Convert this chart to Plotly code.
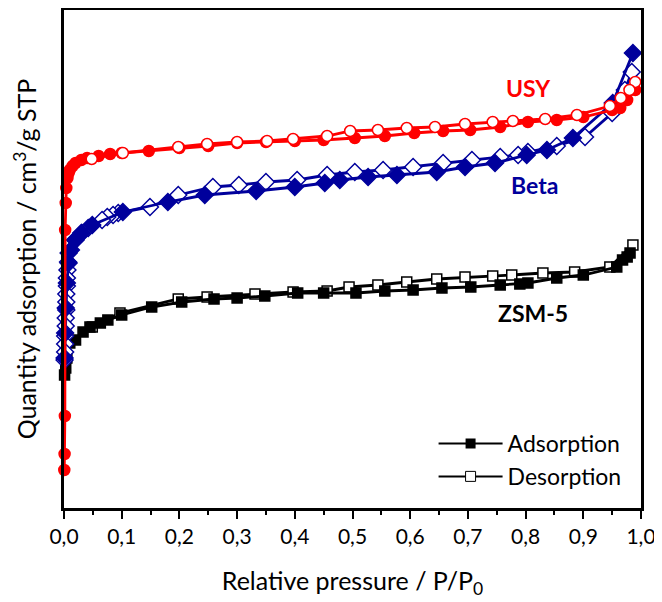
import plotly.graph_objects as go

# Relative pressure (P/P0) and quantity adsorbed (arbitrary units)
usy_ads_p = [0.0005, 0.001, 0.0015, 0.002, 0.003, 0.004, 0.006, 0.008, 0.01, 0.015, 0.02, 0.03, 0.04,
             0.06, 0.08, 0.1, 0.147, 0.2, 0.25, 0.3, 0.35, 0.4, 0.45, 0.504, 0.556, 0.607, 0.657,
             0.704, 0.756, 0.804, 0.854, 0.9, 0.95, 0.964, 0.976, 0.99]
usy_ads_q = [38, 54, 92, 278, 305, 320, 330, 335, 338, 342, 345, 348, 350,
             352, 354, 355, 357, 360, 362, 365, 366, 367, 368, 370, 372, 375, 377,
             378, 381, 386, 388, 391, 398, 400, 408, 418]
usy_des_p = [0.99, 0.98, 0.965, 0.946, 0.889, 0.834, 0.778, 0.743, 0.695, 0.643, 0.594, 0.544,
             0.496, 0.456, 0.397, 0.352, 0.3, 0.248, 0.198, 0.102, 0.048]
usy_des_q = [426, 418, 410, 402, 393, 389, 387, 386, 384, 381, 380, 378,
             377, 372, 369, 367, 366, 364, 361, 355, 349]

beta_ads_p = [0.001, 0.002, 0.003, 0.005, 0.008, 0.012, 0.02, 0.03, 0.049, 0.102, 0.18, 0.244,
              0.333, 0.4, 0.452, 0.478, 0.527, 0.577, 0.646, 0.695, 0.747, 0.802, 0.837, 0.882,
              0.951, 0.986]
beta_ads_q = [150, 175, 200, 225, 245, 258, 268, 275, 283, 296, 306, 313,
              317, 321, 325, 328, 331, 333, 336, 341, 345, 353, 358, 370,
              405, 455]
beta_des_p = [0.984, 0.972, 0.964, 0.95, 0.903, 0.854, 0.804, 0.787, 0.756, 0.707, 0.657, 0.605,
              0.553, 0.504, 0.456, 0.404, 0.35, 0.303, 0.258, 0.198, 0.149, 0.094, 0.085, 0.075,
              0.066, 0.042, 0.031, 0.019, 0.008, 0.007, 0.006, 0.005, 0.005, 0.004, 0.004, 0.004,
              0.003, 0.003, 0.002, 0.002, 0.002, 0.001]
beta_des_q = [436, 418, 406, 395, 371, 362, 356, 353, 351, 348, 345, 341,
              338, 336, 333, 328, 326, 323, 321, 313, 301, 295, 293, 291,
              288, 280, 275, 268, 255, 246, 238, 230, 222, 214, 206, 198,
              190, 182, 172, 164, 156, 148]

zsm_ads_p = [0.001, 0.003, 0.005, 0.01, 0.02, 0.033, 0.045, 0.063, 0.076, 0.1, 0.152, 0.204,
             0.26, 0.3, 0.348, 0.405, 0.45, 0.506, 0.556, 0.605, 0.655, 0.705, 0.756, 0.79,
             0.804, 0.854, 0.9, 0.958, 0.968, 0.976, 0.981]
zsm_ads_q = [133, 140, 150, 165, 168, 176, 181, 185, 188, 193, 201, 206,
             209, 210, 212, 215, 215, 215, 217, 218, 220, 221, 223, 224,
             225, 230, 233, 241, 248, 251, 255]
zsm_des_p = [0.986, 0.946, 0.885, 0.83, 0.776, 0.743, 0.695, 0.646, 0.594, 0.544, 0.494, 0.456,
             0.397, 0.331, 0.248, 0.198, 0.097, 0.049]
zsm_des_q = [263, 241, 236, 235, 233, 232, 231, 229, 226, 223, 221, 217,
             216, 214, 211, 209, 195, 181]

RED = "#ff0000"
BLUE = "#00009c"
BLACK = "#000000"
FONT = "Lato"

fig = go.Figure()


def add(px, q, color, symbol, size, filled):
    fig.add_trace(go.Scatter(
        x=px, y=q, mode="lines+markers", showlegend=False, cliponaxis=False,
        line=dict(color=color, width=2.8),
        marker=dict(symbol=symbol, size=size,
                    color=color if filled else "white",
                    line=dict(color=color, width=1.5)),
    ))


add(zsm_des_p, zsm_des_q, BLACK, "square", 10, False)
add(zsm_ads_p, zsm_ads_q, BLACK, "square", 10, True)
add(beta_des_p, beta_des_q, BLUE, "diamond", 13, False)
add(beta_ads_p, beta_ads_q, BLUE, "diamond", 13, True)
add(usy_ads_p, usy_ads_q, RED, "circle", 11, True)
add(usy_des_p, usy_des_q, RED, "circle", 11, False)

# legend entries
fig.add_trace(go.Scatter(x=[None], y=[None], mode="lines+markers", name="Adsorption",
                         line=dict(color=BLACK, width=2),
                         marker=dict(symbol="square", size=10, color=BLACK)))
fig.add_trace(go.Scatter(x=[None], y=[None], mode="lines+markers", name="Desorption",
                         line=dict(color=BLACK, width=2),
                         marker=dict(symbol="square", size=10, color="white",
                                     line=dict(color=BLACK, width=1))))

labels = [("USY", 0.805, 420, RED), ("Beta", 0.815, 323, BLUE), ("ZSM-5", 0.813, 195, BLACK)]
for text, lx, ly, col in labels:
    fig.add_annotation(x=lx, y=ly, text=f"<b>{text}</b>", showarrow=False,
                       font=dict(family=FONT, size=23, color=col))

fig.update_layout(
    width=662, height=602,
    margin=dict(l=56, r=29, t=2, b=102),
    paper_bgcolor="white", plot_bgcolor="white",
    separators=",.",
    font=dict(family=FONT, size=21, color="black"),
    legend=dict(x=0.975, y=0.02, xanchor="right", yanchor="bottom", itemwidth=64,
                bgcolor="rgba(0,0,0,0)", font=dict(size=23), tracegroupgap=0),
    xaxis=dict(range=[0, 1.0], dtick=0.1, tickformat=".1f", ticks="outside", ticklen=8,
               tickwidth=2, tickcolor="black", showline=True, linewidth=2.5, linecolor="black",
               mirror=True, showgrid=False, zeroline=False, automargin=False,
               minor=dict(dtick=0.05, ticks="outside", ticklen=4, tickwidth=2, tickcolor="black"),
               title=dict(text="Relative pressure / P/P<sub>0</sub>", standoff=26),
               tickfont=dict(size=21)),
    yaxis=dict(range=[0, 498], showticklabels=False, ticks="", showline=True, linewidth=2.5,
               linecolor="black", mirror=True, showgrid=False, zeroline=False, automargin=False,
               title=dict(text="Quantity adsorption / cm<sup>3</sup>/g STP", standoff=18)),
)

fig.write_html("out.html")
